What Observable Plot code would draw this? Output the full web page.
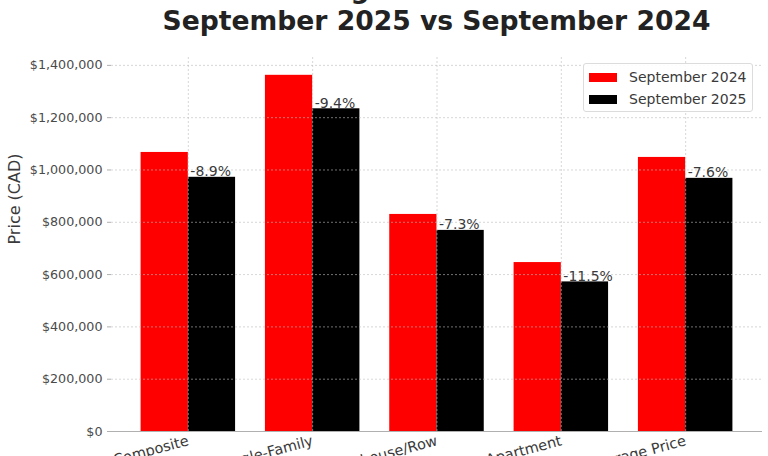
<!DOCTYPE html>
<html>
<head>
<meta charset="utf-8">
<script src="https://cdn.jsdelivr.net/npm/d3@7"></script>
<script src="https://cdn.jsdelivr.net/npm/@observablehq/plot@0.6"></script>
<style>
  html, body { margin: 0; padding: 0; background: #fff; overflow: hidden; width: 768px; height: 456px; }
  #wrap { position: relative; width: 768px; height: 456px; overflow: hidden; font-family: "DejaVu Sans", sans-serif; }
  #title { position: absolute; left: 111px; width: 651px; top: -27px; text-align: center;
           font-size: 26.6px; font-weight: bold; line-height: 32px; color: #222; white-space: nowrap; }
  #chart { position: absolute; left: 0; top: 0; }
  #legend { position: absolute; left: 583px; top: 63px; width: 170px; height: 49px; box-sizing: border-box;
            border: 1px solid #dcdcdc; border-radius: 3px; background: rgba(255,255,255,0.9);
            font-size: 14px; color: #3a3a3a; }
  .item { position: absolute; left: 5px; height: 16px; display: flex; align-items: center; }
  .sw { width: 28px; height: 9px; margin-right: 12px; }
</style>
</head>
<body>
<div id="wrap">
  <div id="chart"></div>
  <div id="title">Mississauga Real Estate Prices<br>September 2025 vs September 2024</div>
  <div id="legend"></div>
</div>
<script>
const categories = ["Total Composite", "Single-Family", "Townhouse/Row", "Apartment", "Average Price"];
const sep2024 = [1067000, 1362000, 830000, 646000, 1048000];
const sep2025 = [972000, 1234000, 769000, 572000, 968000];
const pctChange = [-8.9, -9.4, -7.3, -11.5, -7.6];
const seriesNames = ["September 2024", "September 2025"];
const seriesColors = ["#ff0000", "#000000"];
const yTicks = [0, 200000, 400000, 600000, 800000, 1000000, 1200000, 1400000];

const barWidth = 0.38;
const idx = d3.range(categories.length);

const rows = idx.flatMap(i => [
  {i, series: seriesNames[0], value: sep2024[i], side: -1},
  {i, series: seriesNames[1], value: sep2025[i], side: 0}
]);
const notes = idx.map(i => ({i, value: sep2025[i], label: `${pctChange[i].toFixed(1)}%`}));

const span = (categories.length - 1) + 2 * barWidth;
const xDomain = [-barWidth - 0.05 * span, categories.length - 1 + barWidth + 0.05 * span];
const yMax = d3.max(sep2024.concat(sep2025)) * 1.05;

const gridStyle = {stroke: "#bdbdbd", strokeOpacity: 0.6, strokeDasharray: "2,2", strokeWidth: 1};

const chart = Plot.plot({
  width: 768,
  height: 500,
  marginTop: 57,
  marginBottom: 69,
  marginLeft: 111,
  marginRight: 6,
  style: {fontFamily: "DejaVu Sans, sans-serif", background: "transparent", color: "#333"},
  x: {type: "linear", domain: xDomain},
  y: {domain: [0, yMax]},
  color: {domain: seriesNames, range: seriesColors},
  marks: [
    Plot.rect(rows, {
      x1: d => d.i + (d.side === -1 ? -barWidth : 0),
      x2: d => d.i + (d.side === -1 ? 0 : barWidth),
      y1: 0,
      y2: "value",
      fill: "series"
    }),
    Plot.gridY({ticks: yTicks, ...gridStyle}),
    Plot.gridX({ticks: idx, ...gridStyle}),
    Plot.ruleY([0], {stroke: "#b0b0b0", strokeWidth: 1}),
    Plot.axisY({
      ticks: yTicks,
      tickFormat: d => "$" + d3.format(",")(d),
      tickSize: 4,
      tickPadding: 5,
      fontSize: 12.7,
      fill: "#4a4a4a",
      stroke: "#b0b0b0",
      line: true,
      label: null
    }),
    Plot.axisX({
      ticks: idx,
      tickFormat: i => categories[i],
      tickRotate: -15,
      textAnchor: "end",
      tickSize: 0,
      tickPadding: 9,
      fontSize: 14.5,
      fill: "#3a3a3a",
      label: null
    }),
    Plot.text(["Price (CAD)"], {
      frameAnchor: "left",
      rotate: -90,
      dx: -97,
      fontSize: 16,
      fill: "#3a3a3a"
    }),
    Plot.text(notes, {
      x: "i",
      y: "value",
      text: "label",
      textAnchor: "start",
      lineAnchor: "bottom",
      dx: 2,
      dy: -1,
      fontSize: 14,
      fill: "#3a3a3a"
    })
  ]
});
document.getElementById("chart").appendChild(chart);

const legend = document.getElementById("legend");
seriesNames.forEach((name, k) => {
  const item = document.createElement("div");
  item.className = "item";
  item.style.top = (5 + k * 22) + "px";
  const sw = document.createElement("span");
  sw.className = "sw";
  sw.style.background = seriesColors[k];
  const tx = document.createElement("span");
  tx.textContent = name;
  item.appendChild(sw);
  item.appendChild(tx);
  legend.appendChild(item);
});
</script>
</body>
</html>
